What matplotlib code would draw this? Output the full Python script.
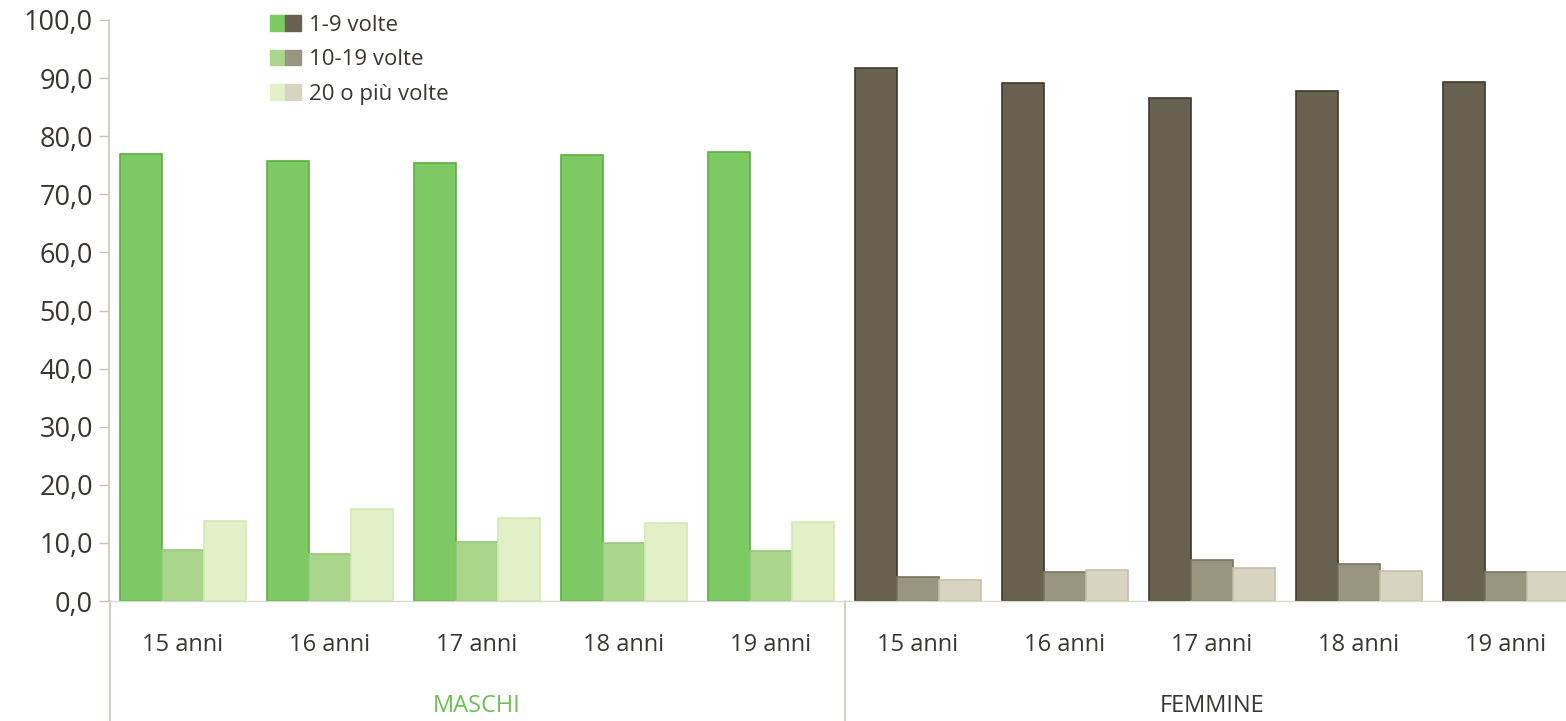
import numpy as np
import matplotlib
matplotlib.use("Agg")
import matplotlib.pyplot as plt
from matplotlib.patches import Patch
from matplotlib.legend_handler import HandlerTuple

# values (percentages)
ages = ["15 anni", "16 anni", "17 anni", "18 anni", "19 anni"]
groups = ["MASCHI", "FEMMINE"]
series = ["1-9 volte", "10-19 volte", "20 o più volte"]

maschi_1_9 = [76.9, 75.7, 75.4, 76.7, 77.3]
maschi_10_19 = [8.8, 8.1, 10.1, 10.0, 8.6]
maschi_20 = [13.8, 15.9, 14.2, 13.4, 13.6]

femmine_1_9 = [91.7, 89.1, 86.6, 87.7, 89.3]
femmine_10_19 = [4.2, 5.0, 7.1, 6.4, 5.0]
femmine_20 = [3.7, 5.4, 5.6, 5.1, 5.0]

green = ["#7dc964", "#a9d68b", "#e2f0c8"]
green_edge = ["#5cae47", "#97c97a", "#d5e8b6"]
brown = ["#696150", "#9a9580", "#d9d4c1"]
brown_edge = ["#3f3a2e", "#7a7562", "#c6c0aa"]
text_col = "#3a3630"
axis_col = "#cdc6b8"

plt.rcParams["font.family"] = ["Open Sans", "DejaVu Sans"]

fig = plt.figure(figsize=(15.66, 7.21), dpi=100)
W, H = 1566, 721
left_px, base_px, top_px = 109.5, 601, 20
ax = fig.add_axes([left_px / W, (H - base_px) / H, 1 - left_px / W, (base_px - top_px) / H])

x = np.arange(10)
w = 0.286
data = [maschi_1_9 + femmine_1_9, maschi_10_19 + femmine_10_19, maschi_20 + femmine_20]
for k in range(3):
    cols = [green[k]] * 5 + [brown[k]] * 5
    edges = [green_edge[k]] * 5 + [brown_edge[k]] * 5
    ax.bar(x + (k - 1) * w, data[k], width=w, color=cols, edgecolor=edges, linewidth=1.2)

ax.set_xlim(-0.5, -0.5 + (W - left_px) / 147)
ax.set_ylim(0, 100)

for s in ["top", "right"]:
    ax.spines[s].set_visible(False)
ax.spines["left"].set_color(axis_col)
ax.spines["left"].set_linewidth(1.2)
ax.spines["bottom"].set_color("#d8dccb")
ax.spines["bottom"].set_linewidth(1.0)

ax.set_yticks(np.arange(0, 101, 10))
ax.set_yticklabels([f"{v:.1f}".replace(".", ",") for v in np.arange(0, 101, 10)])
ax.tick_params(axis="y", length=7, width=1, color=axis_col, labelsize=19.5, labelcolor=text_col, pad=5)
ax.set_xticks([])

# vertical lines under the axis: left axis and group separator
below = -(H - base_px) / (base_px - top_px)
trans = ax.get_xaxis_transform()
ax.plot([-0.5, -0.5], [below, 0], transform=trans, color=axis_col, lw=1.2, clip_on=False)
ax.plot([4.5, 4.5], [below, 0], transform=trans, color=axis_col, lw=1.2, clip_on=False)

for i in range(10):
    ax.text(x[i], -44 / 581, ages[i % 5], transform=trans, ha="center", va="center",
            fontsize=17, color=text_col)
ax.text(2, -105 / 581, groups[0], transform=trans, ha="center", va="center",
        fontsize=17, color="#6cbf52")
ax.text(7, -105 / 581, groups[1], transform=trans, ha="center", va="center",
        fontsize=17, color=text_col)

handles = [(Patch(color=green[k]), Patch(color=brown[k])) for k in range(3)]
fig.legend(handles, series, loc="upper left", bbox_to_anchor=(261 / W, 1 - 6 / H),
           frameon=False, fontsize=16, labelcolor=text_col,
           handler_map={tuple: HandlerTuple(ndivide=None, pad=0)},
           handlelength=1.4, handleheight=0.7, handletextpad=0.35, labelspacing=0.6,
           borderaxespad=0)

fig.savefig("out.png", dpi=100)
